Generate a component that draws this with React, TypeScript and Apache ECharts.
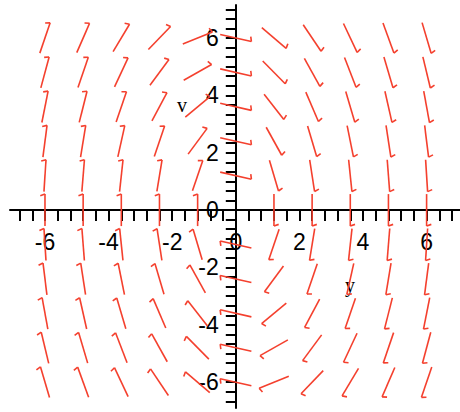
import React, { useEffect, useRef } from "react";
import * as echarts from "echarts";

// Grid of sample points of the direction field (y across, v up)
const yPoints = [-6, -4.8, -3.6, -2.4, -1.2, 0, 1.2, 2.4, 3.6, 4.8, 6];
const vPoints = [-6, -4.8, -3.6, -2.4, -1.2, 0, 1.2, 2.4, 3.6, 4.8, 6];

// System read from the arrows: y' = v, v' = -K*y - C*v
const coefK = 3.5;
const coefC = 0.25;

// Axis tick labels
const xLabels = [-6, -4, -2, 0, 2, 4, 6];
const yLabels = [-6, -4, -2, 0, 2, 4, 6];
// Minor tick steps
const xTickStep = 0.4;
const yTickStep = 1 / 3;

const RED = "#f4402e";

function ticksBetween(min: number, max: number, step: number): number[] {
  const out: number[] = [];
  const start = Math.ceil(min / step - 1e-9);
  const end = Math.floor(max / step + 1e-9);
  for (let i = start; i <= end; i++) out.push(Math.round(i * step * 10000) / 10000);
  return out;
}

export default function App() {
  const ref = useRef<HTMLDivElement>(null);
  useEffect(() => {
    if (!ref.current) return;
    const chart = echarts.init(ref.current, undefined, { renderer: "svg" });
    const W = 460, H = 412;
    const gl = 10, gr = 0, gt = 5, gb = 4;
    const xMin = -7.1, xMax = 7.05, yMin = -6.9, yMax = 7.15;
    const gw = W - gl - gr, gh = H - gt - gb;
    const zeroY = gt + ((yMax - 0) / (yMax - yMin)) * gh;
    const zeroX = gl + ((0 - xMin) / (xMax - xMin)) * gw;
    const xOffset = -(H - gb - zeroY);
    const yOffset = -(zeroX - gl);

    const data: number[][] = [];
    for (const y of yPoints) for (const v of vPoints) data.push([y, v]);

    const option: any = {
      animation: false,
      backgroundColor: "#ffffff",
      grid: { left: gl, right: gr, top: gt, bottom: gb, containLabel: false, outerBoundsMode: "none" },
      xAxis: {
        type: "value",
        min: xMin,
        max: xMax,
        position: "bottom",
        offset: xOffset,
        axisLine: { show: true, onZero: false, lineStyle: { color: "#000", width: 2 } },
        axisTick: {
          show: true,
          customValues: ticksBetween(xMin, xMax, xTickStep),
          length: 11,
          lineStyle: { color: "#000", width: 2 },
        },
        axisLabel: {
          show: true,
          customValues: xLabels,
          color: "#000",
          fontSize: 23,
          fontFamily: "Liberation Sans",
          margin: 20,
          hideOverlap: false,
        },
        splitLine: { show: false },
      },
      yAxis: {
        type: "value",
        min: yMin,
        max: yMax,
        position: "left",
        offset: yOffset,
        axisLine: { show: true, onZero: false, lineStyle: { color: "#000", width: 2 } },
        axisTick: {
          show: true,
          customValues: ticksBetween(yMin, yMax, yTickStep),
          length: 10,
          lineStyle: { color: "#000", width: 2 },
        },
        axisLabel: {
          show: true,
          customValues: yLabels,
          color: "#000",
          fontSize: 23,
          fontFamily: "Liberation Sans",
          margin: 17,
          hideOverlap: false,
        },
        splitLine: { show: false },
      },
      series: [
        {
          type: "custom",
          coordinateSystem: "cartesian2d",
          data,
          renderItem: (params: any, api: any) => {
            const y = api.value(0);
            const v = api.value(1);
            const dy = v;
            const dv = -coefK * y - coefC * v;
            if (dy === 0 && dv === 0) return null;
            const c = api.coord([y, v]);
            const p = api.coord([y + dy * 0.001, v + dv * 0.001]);
            let ux = p[0] - c[0];
            let uy = p[1] - c[1];
            const n = Math.hypot(ux, uy) || 1;
            ux /= n;
            uy /= n;
            const half = 16;
            const sx = c[0] - ux * half, sy = c[1] - uy * half;
            const tx = c[0] + ux * half, ty = c[1] + uy * half;
            const ang = (70 * Math.PI) / 180;
            const bx0 = -ux, by0 = -uy;
            const bx = bx0 * Math.cos(ang) - by0 * Math.sin(ang);
            const by = bx0 * Math.sin(ang) + by0 * Math.cos(ang);
            const bl = 5;
            const style = { stroke: RED, lineWidth: 1.6, fill: "none" };
            return {
              type: "group",
              children: [
                { type: "line", shape: { x1: sx, y1: sy, x2: tx, y2: ty }, style },
                { type: "line", shape: { x1: tx, y1: ty, x2: tx + bx * bl, y2: ty + by * bl }, style },
              ],
            };
          },
        },
      ],
      graphic: [
        {
          type: "text",
          style: {
            text: "y",
            x: 350,
            y: 285,
            textAlign: "center",
            textVerticalAlign: "middle",
            fontSize: 20,
            fontFamily: "Liberation Serif",
            fill: "#000",
          },
        },
        {
          type: "text",
          style: {
            text: "v",
            x: 182,
            y: 105,
            textAlign: "center",
            textVerticalAlign: "middle",
            fontSize: 20,
            fontFamily: "Liberation Serif",
            fill: "#000",
          },
        },
      ],
    };
    chart.setOption(option);
    return () => chart.dispose();
  }, []);
  return (
    <div
      ref={ref}
      style={{ position: "fixed", left: 0, top: 0, width: 460, height: 412, background: "#fff" }}
    />
  );
}
